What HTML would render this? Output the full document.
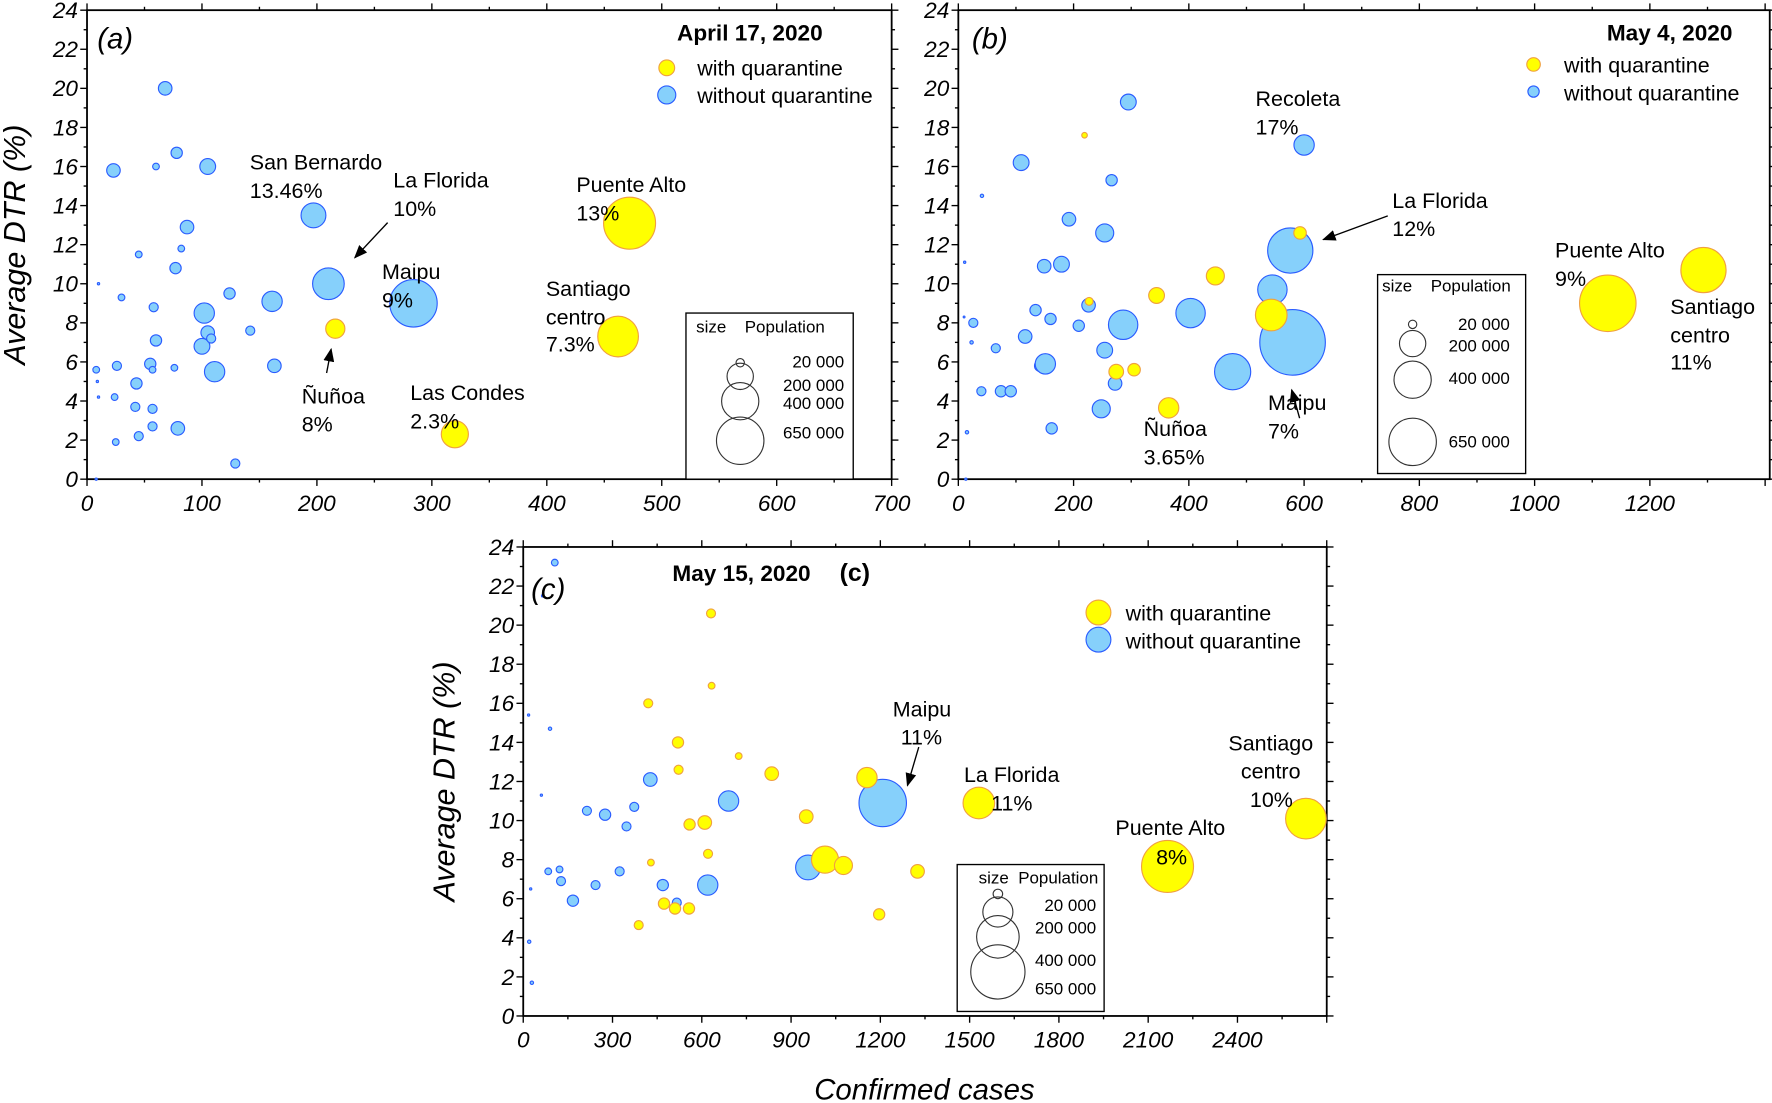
<!DOCTYPE html>
<html><head><meta charset="utf-8"><style>
html,body{margin:0;padding:0;background:#fff}
svg{display:block}
text{font-family:"Liberation Sans",sans-serif;fill:#000}
</style></head><body>
<svg id="fig" width="1772" height="1103" viewBox="0 0 1568 976" xmlns="http://www.w3.org/2000/svg">
<defs><marker id="ah" markerWidth="10" markerHeight="8" refX="9" refY="4" orient="auto"><path d="M0,0 L10,4 L0,8 z" fill="#000"/></marker></defs>
<g id="layer"></g>
<g font-size="19">
<text x="86" y="43" font-size="26" font-style="italic">(a)</text>
<text x="728" y="36" font-size="20" font-weight="bold" text-anchor="end">April 17, 2020</text>
<text x="617" y="67">with quarantine</text>
<text x="617" y="91">without quarantine</text>
<text x="221" y="150">San  Bernardo</text>
<text x="221" y="175">13.46%</text>
<text x="348" y="166">La Florida</text>
<text x="348" y="191">10%</text>
<text x="338" y="247">Maipu</text>
<text x="338" y="272">9%</text>
<text x="267" y="357">Ñuñoa</text>
<text x="267" y="382">8%</text>
<text x="363" y="354">Las Condes</text>
<text x="363" y="379">2.3%</text>
<text x="510" y="170">Puente Alto</text>
<text x="510" y="195">13%</text>
<text x="483" y="262">Santiago</text>
<text x="483" y="287">centro</text>
<text x="483" y="311">7.3%</text>
</g>
<g font-size="19">
<text x="860" y="43" font-size="26" font-style="italic">(b)</text>
<text x="1533" y="36" font-size="20" font-weight="bold" text-anchor="end">May 4, 2020</text>
<text x="1384" y="64">with quarantine</text>
<text x="1384" y="89">without quarantine</text>
<text x="1111" y="94">Recoleta</text>
<text x="1111" y="119">17%</text>
<text x="1232" y="184">La Florida</text>
<text x="1232" y="209">12%</text>
<text x="1376" y="228">Puente Alto</text>
<text x="1376" y="253">9%</text>
<text x="1478" y="278">Santiago</text>
<text x="1478" y="303">centro</text>
<text x="1478" y="327">11%</text>
<text x="1012" y="386">Ñuñoa</text>
<text x="1012" y="411">3.65%</text>
<text x="1122" y="363">Maipu</text>
<text x="1122" y="388">7%</text>
</g>
<g font-size="19">
<text x="470" y="530" font-size="26" font-style="italic">(c)</text>
<text x="595" y="514" font-size="20" font-weight="bold">May 15, 2020</text>
<text x="743" y="514" font-size="22" font-weight="bold">(c)</text>
<text x="996" y="549">with quarantine</text>
<text x="996" y="574">without quarantine</text>
<text x="790" y="634">Maipu</text>
<text x="797" y="659">11%</text>
<text x="853" y="692">La Florida</text>
<text x="877" y="717">11%</text>
<text x="1087" y="664">Santiago</text>
<text x="1098" y="689">centro</text>
<text x="1106" y="714">10%</text>
<text x="987" y="739">Puente Alto</text>
<text x="1023" y="765">8%</text>
<text x="818" y="973" font-size="26" font-style="italic" text-anchor="middle">Confirmed cases</text>
</g>
<g stroke="#000" stroke-width="1.2" marker-end="url(#ah)">
<line x1="343" y1="197" x2="314" y2="228"/>
<line x1="289" y1="330" x2="293" y2="309"/>
<line x1="1228" y1="191" x2="1171" y2="212"/>
<line x1="1150" y1="370" x2="1143" y2="345"/>
<line x1="813" y1="661" x2="803" y2="695"/>
</g>
</svg>
<script>
var aBlueX=[8,8,9,10,10,23,24,26,25,30,42,43,45,45,55,57,57,57,58,60,60,68,76,77,78,79,82,87,100,102,105,105,108,111,124,142,161,163,129,197,210,284];
var aBlueY=[0,5.6,5,4.2,10,15.8,4.2,5.8,1.9,9.3,3.7,4.9,11.5,2.2,5.9,5.6,3.6,2.7,8.8,7.1,16,20,5.7,10.8,16.7,2.6,11.8,12.9,6.8,8.5,16,7.5,7.2,5.5,9.5,7.6,9.1,5.8,0.8,13.5,10,9];
var aBluePop=[1.5,13,1.5,1.5,1.5,53,13,24,13,13,24,37,13,24,37,13,24,24,24,37,13,53,13,37,37,53,13,53,72,119,72,53,24,119,37,24,119,53,24,178,289,650];
var aYelX=[216,320,462,472];
var aYelY=[7.7,2.3,7.3,13.1];
var aYelPop=[106,212,478,780];
var aXTicks=[0,100,200,300,400,500,600,700];
var bBlueX=[13,15,11,10,23,26,41,40,65,74,91,109,116,134,142,149,151,160,179,162,192,209,226,248,254,254,266,272,286,295,403,476,545,600,576,580];
var bBlueY=[0,2.4,11.1,8.3,7,8,14.5,4.5,6.7,4.5,4.5,16.2,7.3,8.65,5.8,10.9,5.9,8.2,11,2.6,13.3,7.85,8.9,3.6,12.6,6.6,15.3,4.9,7.9,19.3,8.5,5.5,9.7,17.1,11.7,7];
var bBluePop=[1.5,3.3,1.5,0.7,3.3,24,3.3,24,24,37,37,72,53,37,37,53,119,37,72,37,53,37,53,94,94,72,37,53,249,72,249,377,249,119,590,1240];
var bYelX=[219,227,274,305,344,446,365,543,593,1127,1293];
var bYelY=[17.6,9.1,5.5,5.6,9.4,10.4,3.65,8.4,12.6,9,10.7];
var bYelPop=[9,18,62,45,72,94,119,289,45,921,590];
var bXTicks=[0,200,400,600,800,1000,1200];
var cBlueX=[106,65,18,90,61,25,20,29,427,690,214,275,373,347,84,122,127,243,324,167,469,516,620,957,1208];
var cBlueY=[23.2,21.5,15.4,14.7,11.3,6.5,3.8,1.7,12.1,11,10.5,10.3,10.7,9.7,7.4,7.5,6.9,6.7,7.4,5.9,6.7,5.8,6.7,7.6,10.9];
var cBluePop=[10,1.1,1.1,2.5,1.1,1.1,2.5,2.5,41,91,18,28,18,18,10,10,18,18,18,28,28,18,91,136,497];
var cYelX=[631,633,420,520,724,522,835,1155,951,610,559,621,429,1014,1076,1325,473,510,557,388,1196,1531,2165,2630];
var cYelY=[20.6,16.9,16,14,13.3,12.6,12.4,12.2,10.2,9.9,9.8,8.3,7.85,8,7.7,7.4,5.75,5.5,5.5,4.65,5.2,10.9,7.65,10.1];
var cYelPop=[18,10,18,28,10,18,41,91,41,41,28,18,10,162,72,41,28,28,28,18,28,221,597,365];
var cXTicks=[0,300,600,900,1200,1500,1800,2100,2400];
var yTicks=[0,2,4,6,8,10,12,14,16,18,20,22,24];
var legendPops=[20,200,400,650];
var legendLabels=["20 000","200 000","400 000","650 000"];

var NS="http://www.w3.org/2000/svg";
var layer=document.getElementById('layer');
function mk(tag,attrs,parent){var e=document.createElementNS(NS,tag);for(var k in attrs)e.setAttribute(k,attrs[k]);(parent||layer).appendChild(e);return e;}

var panels=[
 {id:'a',x0:77,x1:789,y0:424,y1:9,xmax:700,xstep:100,blueX:aBlueX,blueY:aBlueY,blueP:aBluePop,yelX:aYelX,yelY:aYelY,yelP:aYelPop,ticks:aXTicks,R:21,title:true,titleX:22,
  leg:{x:590,y1:60,y2:84,r1:7,r2:8},size:{bx:607,by:277,bw:148,bh:147,cx:655,cy:[321,333,355,390],lx:747,ly:[325,346,362,388],sx:616,px:659,hy:294}},
 {id:'b',x0:848,x1:1566,y0:424,y1:9,xmax:1408,xstep:200,blueX:bBlueX,blueY:bBlueY,blueP:bBluePop,yelX:bYelX,yelY:bYelY,yelP:bYelPop,ticks:bXTicks,R:21,title:false,
  leg:{x:1357,y1:57,y2:81,r1:6,r2:5},size:{bx:1219,by:243,bw:131,bh:176,cx:1250,cy:[287,304,336,391],lx:1336,ly:[292,311,340,396],sx:1223,px:1266,hy:258}},
 {id:'c',x0:463,x1:1174,y0:899,y1:484,xmax:2700,xstep:300,blueX:cBlueX,blueY:cBlueY,blueP:cBluePop,yelX:cYelX,yelY:cYelY,yelP:cYelPop,ticks:cXTicks,R:24,title:true,titleX:402,
  leg:{x:972,y1:542,y2:566,r1:11,r2:11},size:{bx:847,by:765,bw:130,bh:130,cx:883,cy:[791,807,829,860],lx:970,ly:[806,826,855,880],sx:866,px:901,hy:782}}
];

panels.forEach(function(p){
  var sx=function(v){return p.x0+(p.x1-p.x0)*v/p.xmax;};
  var sy=function(v){return p.y0-(p.y0-p.y1)*v/24;};
  var rr=function(pop){return p.R*Math.sqrt(pop/650);};
  var g=mk('g',{});
  
  
  var fr=mk('rect',{x:p.x0,y:p.y1,width:p.x1-p.x0,height:p.y0-p.y1,fill:'none',stroke:'#000','stroke-width':1.6},g);
  
  
  for(var v=0;v<=24;v+=1){
    var y=sy(v),L=(v%2===0)?6:3;
    mk('line',{x1:p.x0-L,y1:y,x2:p.x0,y2:y,stroke:'#000','stroke-width':1.2},g);
    mk('line',{x1:p.x1,y1:y,x2:p.x1+L,y2:y,stroke:'#000','stroke-width':1.2},g);
  }
  yTicks.forEach(function(t){
    var tl=mk('text',{x:p.x0-8,y:sy(t)+7,'font-size':20,'font-style':'italic','text-anchor':'end'},g);
    tl.textContent=t;
    
    
  });
  for(var xv=0;xv<=p.xmax;xv+=p.xstep/2){
    var x=sx(xv),L2=(Math.round(xv/p.xstep*2)%2===0)?6:3;
    mk('line',{x1:x,y1:p.y0,x2:x,y2:p.y0+L2,stroke:'#000','stroke-width':1.2},g);
    mk('line',{x1:x,y1:p.y1-L2,x2:x,y2:p.y1,stroke:'#000','stroke-width':1.2},g);
  }
  p.ticks.forEach(function(t){
    var xl=mk('text',{x:sx(t),y:p.y0+28,'font-size':20,'font-style':'italic','text-anchor':'middle'},g);
    xl.textContent=t;
    
    
  });
  if(p.title){
    var cy=(p.y0+p.y1)/2;
    var tt=mk('text',{x:p.titleX,y:cy,'font-size':27,'font-style':'italic','text-anchor':'middle',transform:'rotate(-90 '+p.titleX+' '+cy+')'},g);
    tt.textContent='Average DTR (%)';
    
    
  }
  p.blueX.forEach(function(xv,i){
    var c=mk('circle',{cx:sx(xv),cy:sy(p.blueY[i]),r:Math.max(0.8,rr(p.blueP[i])),fill:'#86d0fb',stroke:'#2a5cff','stroke-width':1},g);
    
    
  });
  p.yelX.forEach(function(xv,i){
    var c=mk('circle',{cx:sx(xv),cy:sy(p.yelY[i]),r:Math.max(0.8,rr(p.yelP[i])),fill:'#ffff00',stroke:'#f0a040','stroke-width':1},g);
    
    
  });
  var l1=mk('circle',{cx:p.leg.x,cy:p.leg.y1,r:p.leg.r1,fill:'#ffff00',stroke:'#f0a040'},g);
  
  
  var l2=mk('circle',{cx:p.leg.x,cy:p.leg.y2,r:p.leg.r2,fill:'#86d0fb',stroke:'#2a5cff'},g);
  
  
  var s=p.size;
  var sb=mk('rect',{x:s.bx,y:s.by,width:s.bw,height:s.bh,fill:'#fff',stroke:'#000','stroke-width':1.2},g);
  
  
  var h1=mk('text',{x:s.sx,y:s.hy,'font-size':15},g);h1.textContent='size';
  
  
  var h2=mk('text',{x:s.px,y:s.hy,'font-size':15},g);h2.textContent='Population';
  
  
  legendPops.forEach(function(pp,i){
    var c=mk('circle',{cx:s.cx,cy:s.cy[i],r:Math.max(0.6,rr(pp)),fill:'none',stroke:'#333','stroke-width':1},g);
    
    
    var t=mk('text',{x:s.lx,y:s.ly[i],'font-size':15,'text-anchor':'end'},g);
    t.textContent=legendLabels[i];
    
    
  });
});
</script>
</body></html>
